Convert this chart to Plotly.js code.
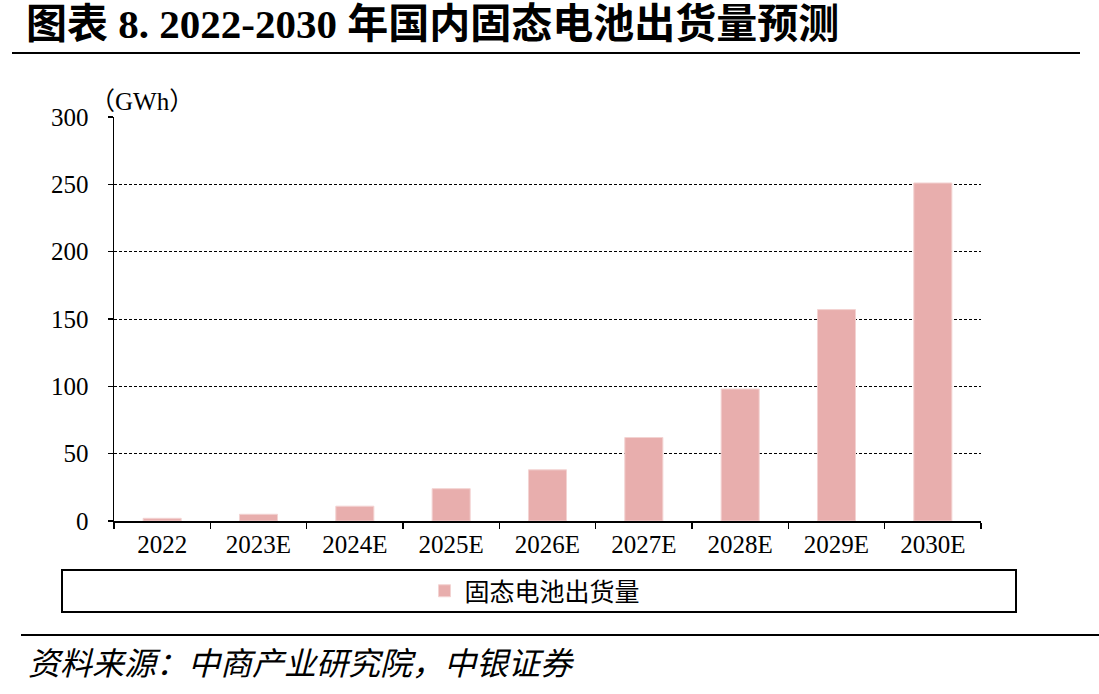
<!DOCTYPE html>
<html>
<head>
<meta charset="utf-8">
<script src="https://cdn.plot.ly/plotly-3.0.1.min.js"></script>
<style>
  html, body { margin: 0; padding: 0; background: #fff; }
  #chart { width: 1099px; height: 694px; }
</style>
</head>
<body>
<div id="chart"></div>
<script>
// Domestic solid-state battery shipments, 2022-2030E (GWh)
const years = ['2022', '2023E', '2024E', '2025E', '2026E', '2027E', '2028E', '2029E', '2030E'];
const shipments = [2, 5, 11, 24, 38, 62, 98, 157, 251];
const yTicks = [0, 50, 100, 150, 200, 250, 300];

const seriesName = '固态电池出货量';
const titleText = '图表 8. 2022-2030 年国内固态电池出货量预测';
const unitText = '<span style="font-family:Noto Sans CJK SC">（</span>GWh<span style="font-family:Noto Sans CJK SC">）</span>';
const sourceText = '资料来源：中商产业研究院，中银证券';

const W = 1099, H = 694;
const M = { l: 114, r: 118, t: 117, b: 173 };
const plotW = W - M.l - M.r, plotH = H - M.t - M.b;
// pixel -> paper coordinate helpers for decorations outside the plot area
const px = x => (x - M.l) / plotW;
const py = y => (H - M.b - y) / plotH;

const serif = '"Liberation Serif", "Times New Roman", "Noto Sans CJK SC", serif';
const cjk = '"Noto Sans CJK SC", "Liberation Serif", sans-serif';

const trace = {
  type: 'bar',
  x: years,
  y: shipments,
  name: seriesName,
  marker: { color: '#E8AEAD', line: { color: '#F3D3D2', width: 1 } },
  hoverinfo: 'x+y'
};

const layout = {
  width: W, height: H,
  margin: M,
  paper_bgcolor: '#fff',
  plot_bgcolor: '#fff',
  bargap: 0.605,
  font: { family: serif, color: '#000', size: 24 },
  xaxis: {
    type: 'category',
    showline: true, linecolor: '#000', linewidth: 1.5,
    ticks: 'outside', ticklen: 6, tickwidth: 1.5, tickcolor: '#000',
    tickson: 'boundaries',
    tickfont: { family: serif, size: 25, color: '#000' },
    showgrid: false, zeroline: false
  },
  yaxis: {
    range: [0, 300],
    tickvals: yTicks,
    showline: true, linecolor: '#000', linewidth: 1.5,
    ticks: 'outside', ticklen: 5, tickwidth: 1.5, tickcolor: '#000',
    ticklabelstandoff: 14,
    tickfont: { family: serif, size: 25, color: '#000' },
    showgrid: true, gridcolor: '#000', gridwidth: 1, griddash: '3px,2px',
    zeroline: false
  },
  showlegend: true,
  legend: {
    orientation: 'h',
    x: px(535), xanchor: 'center',
    y: py(591), yanchor: 'middle',
    bgcolor: 'rgba(0,0,0,0)',
    font: { family: cjk, size: 25, color: '#000' },
    itemwidth: 30
  },
  shapes: [
    // rule under the heading
    { type: 'line', xref: 'paper', yref: 'paper', x0: px(12), x1: px(1080), y0: py(53), y1: py(53),
      line: { color: '#000', width: 2 } },
    // frame around the legend
    { type: 'rect', xref: 'paper', yref: 'paper', x0: px(62), x1: px(1016), y0: py(570), y1: py(612),
      line: { color: '#000', width: 2 } },
    // rule above the source note
    { type: 'line', xref: 'paper', yref: 'paper', x0: px(21), x1: px(1099), y0: py(635), y1: py(635),
      line: { color: '#000', width: 2 } }
  ],
  annotations: [
    { text: '<b>' + titleText + '</b>', xref: 'paper', yref: 'paper', x: px(24), y: py(24),
      xanchor: 'left', yanchor: 'middle', showarrow: false,
      font: { family: serif, size: 41, color: '#000' } },
    { text: unitText, xref: 'paper', yref: 'paper', x: px(88), y: py(99),
      xanchor: 'left', yanchor: 'middle', showarrow: false,
      font: { family: serif, size: 25, color: '#000' } },
    { text: '<i>' + sourceText + '</i>', xref: 'paper', yref: 'paper', x: px(26), y: py(661),
      xanchor: 'left', yanchor: 'middle', showarrow: false,
      font: { family: cjk, size: 32, color: '#000' } }
  ]
};

Plotly.newPlot('chart', [trace], layout, { displayModeBar: false, staticPlot: true });
</script>
</body>
</html>
